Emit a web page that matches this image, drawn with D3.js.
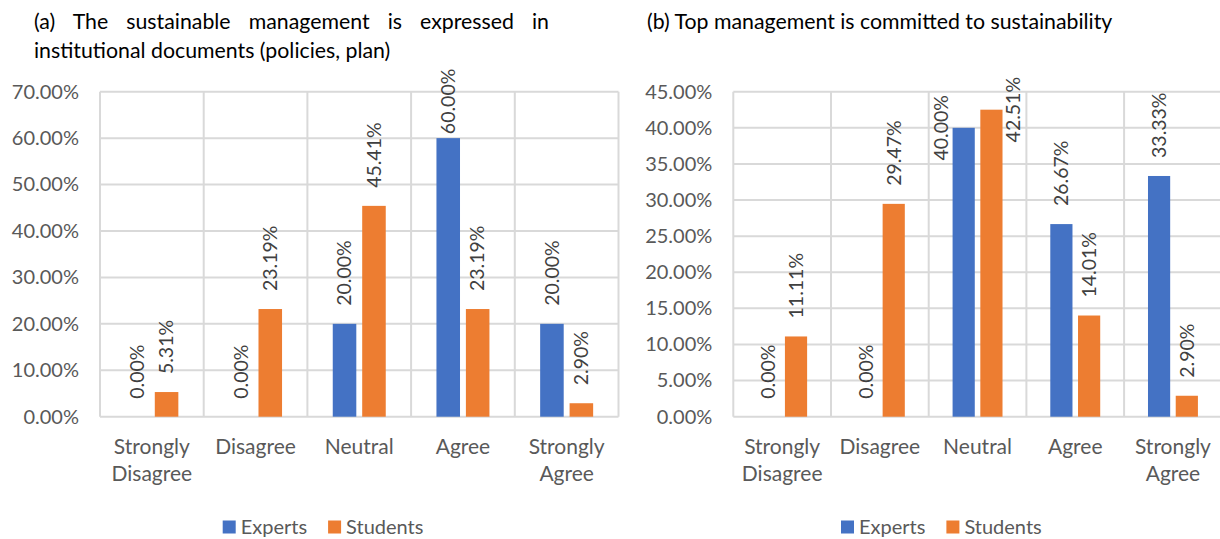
<!DOCTYPE html>
<html><head><meta charset="utf-8">
<script src="https://cdn.jsdelivr.net/npm/d3@7"></script>
<style>body{margin:0;background:#fff;overflow:hidden} svg{display:block}</style>
</head><body><svg id="c" width="1220" height="539"></svg>
<script>
// ---------- data ----------
const categories = ["Strongly Disagree","Disagree","Neutral","Agree","Strongly Agree"];
const seriesNames = ["Experts","Students"];
const expertsA  = [0, 0, 20, 60, 20];
const studentsA = [5.31, 23.19, 45.41, 23.19, 2.90];
const expertsB  = [0, 0, 40, 26.67, 33.33];
const studentsB = [11.11, 29.47, 42.51, 14.01, 2.90];
const ticksA = [0, 10, 20, 30, 40, 50, 60, 70];
const ticksB = [0, 5, 10, 15, 20, 25, 30, 35, 40, 45];
const titleA = ["(a) The sustainable management is expressed in", "institutional documents (policies, plan)"];
const titleB = ["(b) Top management is committed to sustainability"];

// ---------- style ----------
const FONT = "Lato, 'Open Sans', sans-serif";
const colors = {Experts: "#4472C4", Students: "#ED7D31"};
const GRID = "#d9d9d9";
const svg = d3.select("#c");

function panel(cfg) {
  const g = svg.append("g");
  const y = d3.scaleLinear().domain([0, cfg.max]).range([cfg.yBot, cfg.yTop]);
  const x = d3.scaleBand().domain(categories).range([cfg.xL, cfg.xR]).paddingInner(0).paddingOuter(0);
  const bw = x.bandwidth();
  const x1 = d3.scaleBand().domain(seriesNames).range([bw * 0.2445, bw * 0.7555]).paddingInner(0.2);

  // horizontal grid
  g.append("g").selectAll("line").data(cfg.ticks).join("line")
    .attr("x1", cfg.xL).attr("x2", cfg.xR)
    .attr("y1", d => y(d)).attr("y2", d => y(d))
    .attr("stroke", GRID).attr("stroke-width", 2);
  // vertical grid at category boundaries
  const bounds = categories.map(c => x(c)).concat([cfg.xR]);
  g.append("g").selectAll("line").data(bounds).join("line")
    .attr("x1", d => d).attr("x2", d => d)
    .attr("y1", cfg.yTop).attr("y2", cfg.yBot)
    .attr("stroke", GRID).attr("stroke-width", 2);

  // y axis
  const yAxis = d3.axisLeft(y).tickValues(cfg.ticks).tickSize(0).tickPadding(21)
    .tickFormat(d => d.toFixed(2) + "%");
  const ya = g.append("g").attr("transform", `translate(${cfg.xL},0)`).call(yAxis);
  ya.select(".domain").remove();
  ya.selectAll("text").attr("font-family", FONT).attr("font-size", 20).attr("fill", "#595959");

  // x axis labels (wrapped)
  const xa = g.append("g");
  categories.forEach(c => {
    const words = c.split(" ");
    const t = xa.append("text").attr("text-anchor", "middle")
      .attr("font-family", FONT).attr("font-size", 21).attr("fill", "#595959");
    words.forEach((w, i) => {
      t.append("tspan").attr("x", x(c) + bw / 2).attr("y", cfg.catY + i * 27.5)
        .attr("dy", "0.35em").text(w);
    });
  });

  // bars
  const rows = [];
  categories.forEach((c, i) => {
    rows.push({c, s: "Experts", v: cfg.experts[i]});
    rows.push({c, s: "Students", v: cfg.students[i]});
  });
  g.append("g").selectAll("rect").data(rows).join("rect")
    .attr("x", d => x(d.c) + x1(d.s)).attr("width", x1.bandwidth())
    .attr("y", d => y(d.v)).attr("height", d => y(0) - y(d.v))
    .attr("fill", d => colors[d.s]);

  // value labels (rotated)
  const lg = g.append("g");
  rows.forEach(d => {
    const cx = x(d.c) + x1(d.s) + x1.bandwidth() / 2;
    const top = y(d.v);
    const t = lg.append("text").attr("font-family", FONT).attr("font-size", 19.5)
      .attr("fill", "#404040").attr("dy", "0.35em").text(d.v.toFixed(2) + "%");
    const len = t.node().getComputedTextLength();
    let bottom = top - 18;
    let px = cx;
    if (bottom - len < cfg.limitTop) bottom = top - 4;
    if (bottom - len < cfg.limitTop) {
      // shift beside the bar, centered on bar top
      const off = x1.bandwidth() / 2 + 11;
      px = d.s === "Experts" ? cx - off : cx + off;
      bottom = top + len / 2;
    }
    t.attr("transform", `translate(${px},${bottom}) rotate(-90)`);
  });

  // title (justified first line)
  cfg.title.forEach((line, i) => {
    const t = svg.append("text").attr("x", cfg.titleX).attr("y", 21.5 + i * 29).attr("dy", "0.35em")
      .attr("font-family", FONT).attr("font-size", 21.3).attr("fill", "#000").text(line);
    if (cfg.justify && i < cfg.title.length - 1) {
      const w = t.node().getComputedTextLength();
      const spaces = line.split(" ").length - 1;
      t.attr("word-spacing", (cfg.justify - w) / spaces);
    }
  });

  // legend
  const leg = svg.append("g").attr("transform", `translate(${cfg.legendX},527)`);
  let lx = 0;
  seriesNames.forEach(s => {
    leg.append("rect").attr("x", lx).attr("y", -6.5).attr("width", 13).attr("height", 13).attr("fill", colors[s]);
    const t = leg.append("text").attr("x", lx + 18).attr("dy", "0.35em")
      .attr("font-family", FONT).attr("font-size", 20).attr("fill", "#595959").text(s);
    lx += 18 + t.node().getComputedTextLength() + 21;
  });
}

panel({xL: 100, xR: 618.5, yTop: 91.7, yBot: 416.7, max: 70, ticks: ticksA,
  experts: expertsA, students: studentsA, catY: 446.5, limitTop: 66,
  title: titleA, titleX: 34, justify: 515, legendX: 222.7});
panel({xL: 733.3, xR: 1221.8, yTop: 91.7, yBot: 416.7, max: 45, ticks: ticksB,
  experts: expertsB, students: studentsB, catY: 446.5, limitTop: 75,
  title: titleB, titleX: 647, justify: 0, legendX: 841});
</script></body></html>
